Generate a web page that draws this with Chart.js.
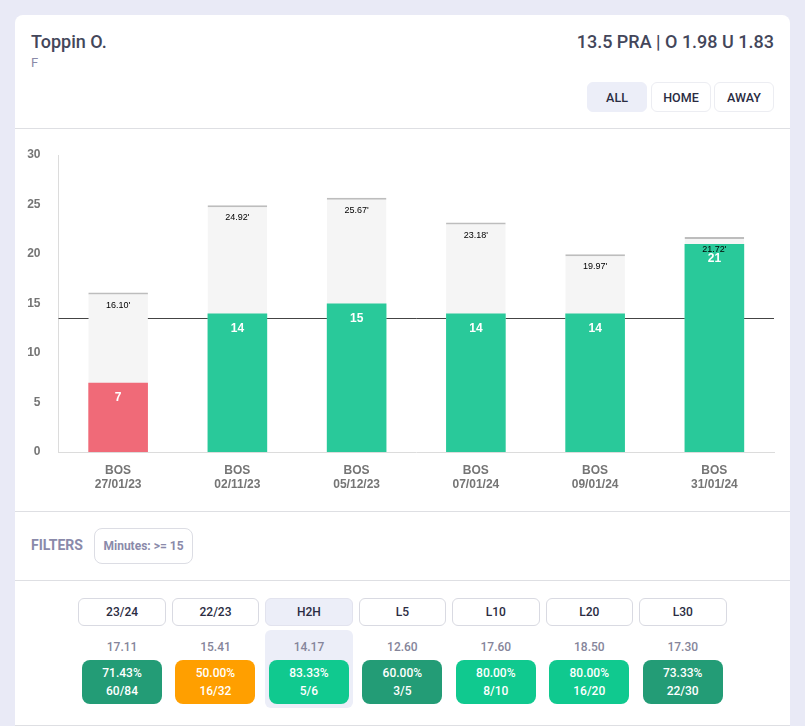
<!DOCTYPE html>
<html>
<head>
<meta charset="utf-8">
<script src="https://cdn.jsdelivr.net/npm/chart.js@4"></script>
<style>
  html, body { margin: 0; padding: 0; background: #e9eaf6; }
  body { width: 805px; height: 726px; overflow: hidden; position: relative; font-family: Roboto, sans-serif; }
  #card { position: absolute; left: 15px; top: 15px; width: 775px; height: 711px; background: #fff; border-radius: 8px 8px 0 0; }
  .abs { position: absolute; box-sizing: border-box; }
  .rule { position: absolute; left: 15px; width: 775px; height: 1px; background: #dedfe3; }
  .btn { display: flex; align-items: center; justify-content: center; border: 1px solid #ecedf2; border-radius: 6px; background: #fff; color: #2a2c42; font-weight: 500; font-size: 12.5px; }
  .btn.on { background: #eceef8; border-color: #eceef8; }
  .tab { border-color: #d9dae2; font-size: 12px; font-weight: 500; }
  .tab.on { border-color: #e2e3ee; }
  .avg { text-align: center; color: #85859a; font-weight: 500; font-size: 12px; line-height: 16px; }
  .chip { border-radius: 8px; color: #fff; font-weight: 500; font-size: 12px; line-height: 18px; text-align: center; padding-top: 4px; }
  #chartBox { position: absolute; left: 15px; top: 129px; width: 775px; height: 382px; }
</style>
</head>
<body>
<div id="card"></div>
<div class="abs" style="left:31px;top:31px;font-size:18px;font-weight:500;color:#43465a;line-height:22px">Toppin O.</div>
<div class="abs" style="left:31px;top:55px;font-size:13px;color:#8a8aa8;line-height:16px">F</div>
<div class="abs" style="right:31px;top:31px;font-size:18px;font-weight:500;color:#43465a;line-height:22px">13.5 PRA | O 1.98 U 1.83</div>
<div class="rule" style="top:128px"></div>
<div class="rule" style="top:511px"></div>
<div class="rule" style="top:580px"></div>
<div class="rule" style="top:725px"></div>
<div class="abs" style="left:31px;top:536px;font-size:14px;font-weight:700;color:#8a8aaa;line-height:18px">FILTERS</div>
<div class="abs btn" style="left:94px;top:528px;width:99px;height:36px;border-color:#dcdde4;color:#8a8aaa;font-size:12px;font-weight:700;border-radius:8px">Minutes: &gt;= 15</div>
<div id="chartBox"><canvas id="propChart"></canvas></div>

<script>
const opponents = ['BOS', 'BOS', 'BOS', 'BOS', 'BOS', 'BOS'];
const gameDates = ['27/01/23', '02/11/23', '05/12/23', '07/01/24', '09/01/24', '31/01/24'];
const praValues = [7, 14, 15, 14, 14, 21];
const minutesValues = [16.10, 24.92, 25.67, 23.18, 19.97, 21.72];
const propLine = 13.5;
const yTicks = [0, 5, 10, 15, 20, 25, 30];

const splitButtons = ['ALL', 'HOME', 'AWAY'];
const rangeTabs = ['23/24', '22/23', 'H2H', 'L5', 'L10', 'L20', 'L30'];
const rangeAverages = ['17.11', '15.41', '14.17', '12.60', '17.60', '18.50', '17.30'];
const rangePercents = ['71.43%', '50.00%', '83.33%', '60.00%', '80.00%', '80.00%', '73.33%'];
const rangeCounts = ['60/84', '16/32', '5/6', '3/5', '8/10', '16/20', '22/30'];
const rangeColors = ['#239c76', '#ff9f00', '#10c98f', '#239c76', '#10c98f', '#10c98f', '#239c76'];

const GREEN = 'rgb(41, 201, 154)';
const RED = 'rgb(240, 106, 120)';

function addDiv(cls, style, text) {
    const el = document.createElement('div');
    el.className = 'abs ' + cls;
    el.style.cssText = style;
    el.textContent = text;
    document.body.appendChild(el);
}

// header buttons
const splitLeft = [587, 651, 714];
splitButtons.forEach((name, i) => {
    addDiv('btn' + (i === 0 ? ' on' : ''), `left:${splitLeft[i]}px;top:82px;width:60px;height:30px;`, name);
});

// range table below the chart
addDiv('', 'left:265px;top:630px;width:88px;height:78px;background:#eceef8;border-radius:6px;', '');
rangeTabs.forEach((name, i) => {
    const left = 78.3 + i * 93.45;
    addDiv('btn tab' + (name === 'H2H' ? ' on' : ''), `left:${left}px;top:598px;width:87.5px;height:28px;`, name);
    addDiv('avg', `left:${left}px;top:639px;width:87.5px;`, rangeAverages[i]);
    const chip = document.createElement('div');
    chip.className = 'abs chip';
    chip.style.cssText = `left:${left + 3.7}px;top:660px;width:80px;height:44px;background:${rangeColors[i]};`;
    chip.innerHTML = `${rangePercents[i]}<br>${rangeCounts[i]}`;
    document.body.appendChild(chip);
});

// prop line sits above the minutes bars but under the coloured ones
const propLinePlugin = {
    id: 'propLine',
    beforeDatasetDraw(chart, args) {
        if (args.index !== 1) return;
        const { ctx, chartArea, scales } = chart;
        const y = Math.round(scales.y.getPixelForValue(propLine)) + 0.5;
        ctx.save();
        ctx.strokeStyle = '#444';
        ctx.lineWidth = 1;
        ctx.beginPath();
        ctx.moveTo(chartArea.left, y);
        ctx.lineTo(chartArea.right, y);
        ctx.stroke();
        ctx.restore();
    }
};

const barLabelsPlugin = {
    id: 'barLabels',
    afterDatasetsDraw(chart) {
        const { ctx } = chart;
        ctx.save();
        ctx.textAlign = 'center';
        ctx.textBaseline = 'middle';
        ctx.font = '9px "Liberation Sans", Arial, sans-serif';
        ctx.fillStyle = '#000';
        chart.getDatasetMeta(1).data.forEach((bar, i) => {
            ctx.fillText(minutesValues[i].toFixed(2) + "'", bar.x, bar.y + 12.5);
        });
        ctx.font = 'bold 12px "Liberation Sans", Arial, sans-serif';
        ctx.fillStyle = '#fff';
        chart.getDatasetMeta(0).data.forEach((bar, i) => {
            ctx.fillText(praValues[i], bar.x, bar.y + 15);
        });
        ctx.restore();
    }
};

new Chart(document.getElementById('propChart'), {
    type: 'bar',
    data: {
        labels: opponents.map((team, i) => [team, gameDates[i]]),
        datasets: [
            {
                label: 'PRA',
                data: praValues,
                backgroundColor: praValues.map(v => v > propLine ? GREEN : RED),
                order: 1
            },
            {
                label: 'Minutes',
                data: minutesValues,
                backgroundColor: '#f5f5f5',
                borderColor: '#bdbdbd',
                borderWidth: { top: 2, left: 0, right: 0, bottom: 0 },
                borderSkipped: false,
                order: 2
            }
        ]
    },
    options: {
        responsive: true,
        maintainAspectRatio: false,
        animation: false,
        layout: { padding: { top: 26, right: 16, left: 0, bottom: 0 } },
        plugins: { legend: { display: false }, tooltip: { enabled: false } },
        datasets: { bar: { barPercentage: 0.5, categoryPercentage: 1 } },
        scales: {
            x: {
                stacked: true,
                grid: { display: false },
                border: { color: '#dcdcdc' },
                ticks: {
                    color: '#757575',
                    font: { family: '"Liberation Sans", Arial, sans-serif', size: 12, weight: 'bold' },
                    padding: 3,
                    maxRotation: 0
                },
                afterFit: (scale) => { scale.height = 59; }
            },
            y: {
                stacked: false,
                min: 0,
                max: 30,
                grid: { display: false },
                border: { color: '#dcdcdc' },
                afterBuildTicks: (scale) => { scale.ticks = yTicks.map(value => ({ value })); },
                ticks: {
                    color: '#757575',
                    font: { family: '"Liberation Sans", Arial, sans-serif', size: 12, weight: 'bold' },
                    padding: 10
                },
                afterFit: (scale) => { scale.width = 43.5; }
            }
        }
    },
    plugins: [propLinePlugin, barLabelsPlugin]
});
</script>
</body>
</html>
